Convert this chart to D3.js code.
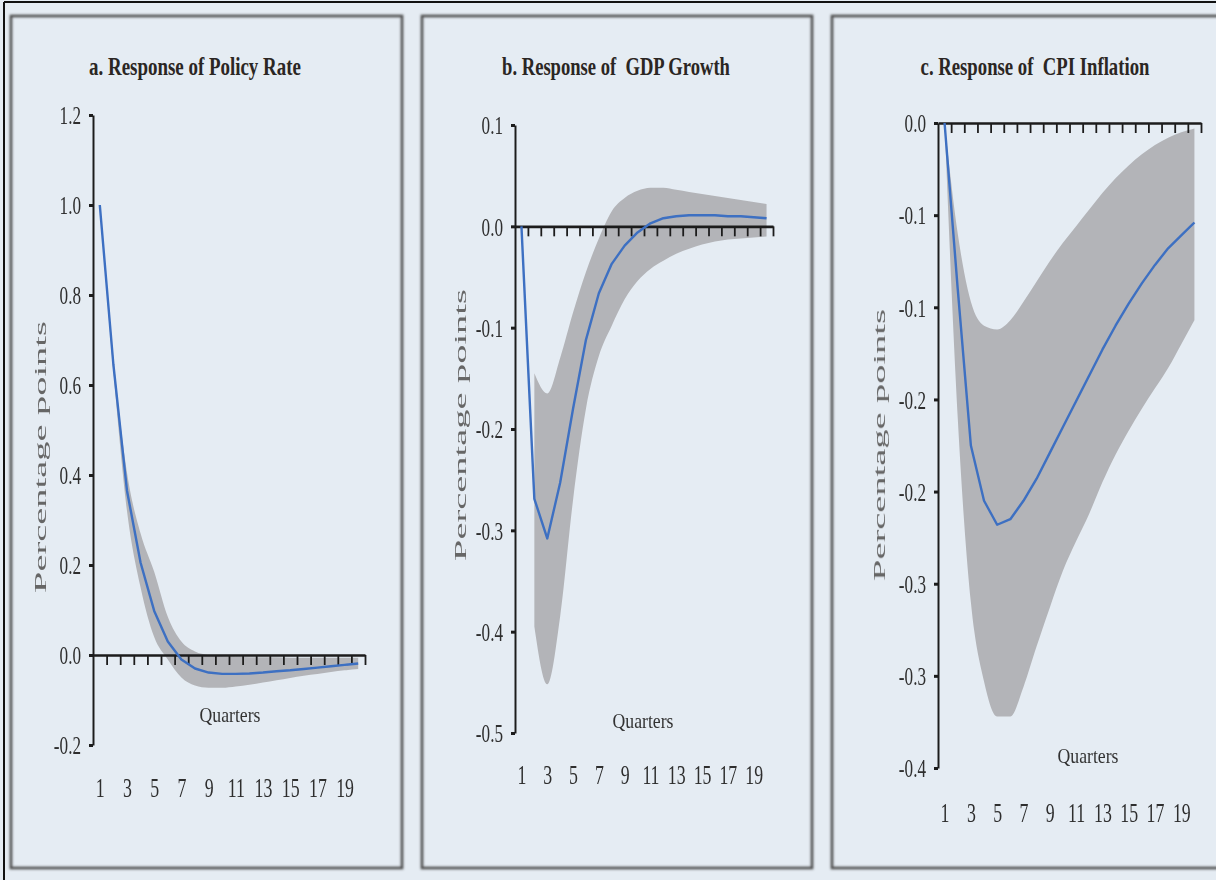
<!DOCTYPE html>
<html>
<head>
<meta charset="utf-8">
<script src="https://cdn.jsdelivr.net/npm/d3@7"></script>
<style>
  html, body { margin: 0; padding: 0; background: #e5ecf3; }
  svg { display: block; }
  text { font-family: "Liberation Serif", "DejaVu Serif", serif; }
  .title { white-space: pre; }
</style>
</head>
<body>
<svg id="chart" width="1216" height="880"></svg>
<script>
// Impulse responses over 20 quarters, with confidence bands
const quarters = [1,2,3,4,5,6,7,8,9,10,11,12,13,14,15,16,17,18,19,20];
const quarterLabels = [1,3,5,7,9,11,13,15,17,19];

const policyRate  = [1.0, 0.645, 0.365, 0.205, 0.098, 0.030, -0.010, -0.030, -0.039, -0.042, -0.042, -0.041, -0.039, -0.036, -0.034, -0.031, -0.028, -0.025, -0.022, -0.019];
const policyUpper = [1.0, 0.660, 0.405, 0.270, 0.185, 0.085, 0.030, 0.008, 0.000, -0.003, -0.004, -0.005, -0.005, -0.005, -0.006, -0.006, -0.006, -0.006, -0.006, -0.006];
const policyLower = [1.0, 0.630, 0.320, 0.150, 0.040, -0.010, -0.050, -0.068, -0.073, -0.073, -0.070, -0.066, -0.061, -0.056, -0.051, -0.046, -0.042, -0.038, -0.034, -0.031];

const gdpGrowth = [0.0, -0.269, -0.308, -0.253, -0.180, -0.112, -0.066, -0.037, -0.019, -0.006, 0.003, 0.008, 0.010, 0.011, 0.011, 0.011, 0.010, 0.010, 0.009, 0.008];
const gdpUpper  = [null, -0.145, -0.165, -0.130, -0.085, -0.045, -0.012, 0.015, 0.028, 0.035, 0.038, 0.038, 0.036, 0.034, 0.032, 0.030, 0.028, 0.026, 0.024, 0.022];
const gdpLower  = [null, -0.395, -0.452, -0.385, -0.270, -0.180, -0.128, -0.098, -0.072, -0.054, -0.042, -0.034, -0.027, -0.022, -0.018, -0.015, -0.013, -0.012, -0.011, -0.010];

const cpiInflation = [0.0, -0.090, -0.175, -0.205, -0.218, -0.215, -0.205, -0.193, -0.179, -0.165, -0.151, -0.137, -0.123, -0.110, -0.098, -0.087, -0.077, -0.068, -0.061, -0.054];
const cpiUpper     = [0.0, -0.060, -0.097, -0.110, -0.112, -0.107, -0.097, -0.086, -0.075, -0.065, -0.056, -0.047, -0.038, -0.030, -0.023, -0.017, -0.012, -0.008, -0.005, -0.003];
const cpiLower     = [0.0, -0.160, -0.260, -0.303, -0.322, -0.322, -0.306, -0.284, -0.263, -0.243, -0.227, -0.212, -0.195, -0.180, -0.167, -0.155, -0.144, -0.133, -0.120, -0.107];

const policyTicks = [-0.2, 0.0, 0.2, 0.4, 0.6, 0.8, 1.0, 1.2];
const gdpTicks = [-0.5, -0.4, -0.3, -0.2, -0.1, 0.0, 0.1];
const cpiTicks = [0.0, -0.05, -0.10, -0.15, -0.20, -0.25, -0.30, -0.35];
const cpiTickLabels = ["0.0", "-0.1", "-0.1", "-0.2", "-0.2", "-0.3", "-0.3", "-0.4"];

const titles = ["a. Response of Policy Rate", "b. Response of  GDP Growth", "c. Response of  CPI Inflation"];

const svg = d3.select("#chart");
const defs = svg.append("defs");
defs.append("filter").attr("id", "soft").attr("x", "-5%").attr("y", "-5%").attr("width", "110%").attr("height", "110%")
  .append("feGaussianBlur").attr("stdDeviation", 0.9);
defs.append("filter").attr("id", "softer").attr("x", "-5%").attr("y", "-50%").attr("width", "110%").attr("height", "200%")
  .append("feGaussianBlur").attr("stdDeviation", 1.6);
defs.append("filter").attr("id", "haze").attr("x", "-5%").attr("y", "-5%").attr("width", "110%").attr("height", "110%")
  .append("feGaussianBlur").attr("stdDeviation", 0.45);

// page background and outer rule
svg.append("rect").attr("width", 1216).attr("height", 880).attr("fill", "#e5ecf3");
svg.append("line").attr("x1", 4).attr("x2", 1216).attr("y1", 2).attr("y2", 2).attr("stroke", "#111").attr("stroke-width", 2);
svg.append("line").attr("x1", 4).attr("x2", 4).attr("y1", 2).attr("y2", 880).attr("stroke", "#111").attr("stroke-width", 2);

const panels = [
  { title: titles[0], frame: [11, 16, 402, 868], titleX: 195, titleW: 212,
    x: [93, 365], y: [745, 115], domain: [-0.2, 1.2], ticks: policyTicks, tickText: d => d.toFixed(1),
    mid: policyRate, up: policyUpper, lo: policyLower, labelY: 797, qX: 230, qY: 722, ppX: 46, ppY: 457 },
  { title: titles[1], frame: [422, 16, 812, 868], titleX: 616, titleW: 228,
    x: [515, 773], y: [733, 125], domain: [-0.5, 0.1], ticks: gdpTicks, tickText: d => d.toFixed(1),
    mid: gdpGrowth, up: gdpUpper, lo: gdpLower, labelY: 784, qX: 643, qY: 728, ppX: 466, ppY: 425 },
  { title: titles[2], frame: [832, 16, 1216, 868], titleX: 1035, titleW: 229,
    x: [938, 1201], y: [768, 123], domain: [-0.35, 0], ticks: cpiTicks, tickText: (d, i) => cpiTickLabels[i],
    mid: cpiInflation, up: cpiUpper, lo: cpiLower, labelY: 822, qX: 1088, qY: 763, ppX: 885, ppY: 445 }
];

const SX = 0.66; // horizontal squeeze for the condensed numerals

// squeeze a text horizontally so that it spans the given width
function fitWidth(sel, cx, cy, width, rotate) {
  const natural = sel.node().getComputedTextLength();
  const s = width / natural;
  sel.attr("x", 0).attr("y", 0)
    .attr("transform", `translate(${cx},${cy})${rotate ? " rotate(-90)" : ""} scale(${s},1)`);
}

panels.forEach(p => {
  const [fx0, fy0, fx1, fy1] = p.frame;
  const g = svg.append("g");

  // panel frame with soft edges
  g.append("rect").attr("x", fx0).attr("y", fy0).attr("width", fx1 - fx0 + (fx1 >= 1216 ? 20 : 0)).attr("height", fy1 - fy0)
    .attr("fill", "#e5ecf3");
  g.append("rect").attr("x", fx0).attr("y", fy0).attr("width", fx1 - fx0 + (fx1 >= 1216 ? 20 : 0)).attr("height", fy1 - fy0)
    .attr("fill", "none").attr("stroke", "#4d4d4d").attr("stroke-width", 2.6).attr("filter", "url(#soft)");
  g.append("line").attr("x1", fx0).attr("x2", fx1).attr("y1", fy0 + 1).attr("y2", fy0 + 1)
    .attr("stroke", "#6e6e6e").attr("stroke-width", 5).attr("filter", "url(#softer)");
  g.append("line").attr("x1", fx0).attr("x2", fx1).attr("y1", fy1 + 1).attr("y2", fy1 + 1)
    .attr("stroke", "#6e6e6e").attr("stroke-width", 3).attr("filter", "url(#softer)");

  // title
  const t = g.append("text").attr("class", "title").attr("text-anchor", "middle")
    .attr("font-size", 25).attr("font-weight", "bold").attr("fill", "#2b2623")
    .text(p.title);
  fitWidth(t, p.titleX, 75, p.titleW, false);

  const x = d3.scaleLinear().domain([0.5, 20.5]).range(p.x);
  const y = d3.scaleLinear().domain(p.domain).range(p.y);

  const plot = g.append("g").attr("filter", "url(#haze)");

  // confidence band
  const band = d3.area()
    .defined((d, i) => p.up[i] != null && p.lo[i] != null)
    .curve(d3.curveMonotoneX)
    .x((d, i) => x(quarters[i]))
    .y0((d, i) => y(p.lo[i]))
    .y1((d, i) => y(p.up[i]));
  plot.append("path").datum(quarters).attr("d", band).attr("fill", "#b3b4b8");

  // zero line with a tick at each quarter boundary
  const zeroAxis = d3.axisBottom(x)
    .tickValues([1.5,2.5,3.5,4.5,5.5,6.5,7.5,8.5,9.5,10.5,11.5,12.5,13.5,14.5,15.5,16.5,17.5,18.5,19.5,20.5])
    .tickSize(10).tickSizeOuter(0).tickFormat("");
  const za = plot.append("g").attr("transform", `translate(0,${y(0)})`).call(zeroAxis);
  za.select(".domain").attr("stroke", "#1e1e1e").attr("stroke-width", 2.6);
  za.selectAll(".tick line").attr("stroke", "#1e1e1e").attr("stroke-width", 1.8);

  // y axis
  const yAxis = d3.axisLeft(y).tickValues(p.ticks).tickSize(4).tickSizeOuter(0).tickPadding(12)
    .tickFormat(p.tickText);
  const ya = plot.append("g").attr("transform", `translate(${p.x[0]},0)`).call(yAxis);
  ya.select(".domain").attr("stroke", "#1e1e1e").attr("stroke-width", 2);
  ya.selectAll(".tick line").attr("stroke", "#1e1e1e").attr("stroke-width", 3);
  ya.selectAll(".tick text")
    .attr("font-family", "Liberation Serif").attr("font-size", 26).attr("fill", "#2e2e2e")
    .attr("x", -12 / SX).attr("transform", `scale(${SX},1)`).attr("dy", "0.34em");

  // response line
  const line = d3.line().x((d, i) => x(quarters[i])).y((d, i) => y(p.mid[i]));
  plot.append("path").datum(quarters).attr("d", line)
    .attr("fill", "none").attr("stroke", "#3d6fc2").attr("stroke-width", 2.4).attr("stroke-linejoin", "round");

  // quarter labels
  const xAxis = d3.axisBottom(x).tickValues(quarterLabels).tickSize(0).tickPadding(0).tickFormat(d3.format("d"));
  const xa = plot.append("g").attr("transform", `translate(0,${p.labelY})`).call(xAxis);
  xa.select(".domain").remove();
  xa.selectAll(".tick text")
    .attr("font-family", "Liberation Serif").attr("font-size", 27).attr("fill", "#2e2e2e")
    .attr("y", 0).attr("dy", 0).attr("transform", `scale(${SX},1)`);

  // axis titles
  const q = plot.append("text").attr("text-anchor", "middle")
    .attr("font-size", 22).attr("fill", "#333").text("Quarters");
  fitWidth(q, p.qX, p.qY, 61, false);
  const pp = plot.append("text").attr("text-anchor", "middle")
    .attr("font-family", "DejaVu Serif").attr("font-size", 17).attr("fill", "#666")
    .text("Percentage points");
  fitWidth(pp, p.ppX, p.ppY, 272, true);
});
</script>
</body>
</html>
